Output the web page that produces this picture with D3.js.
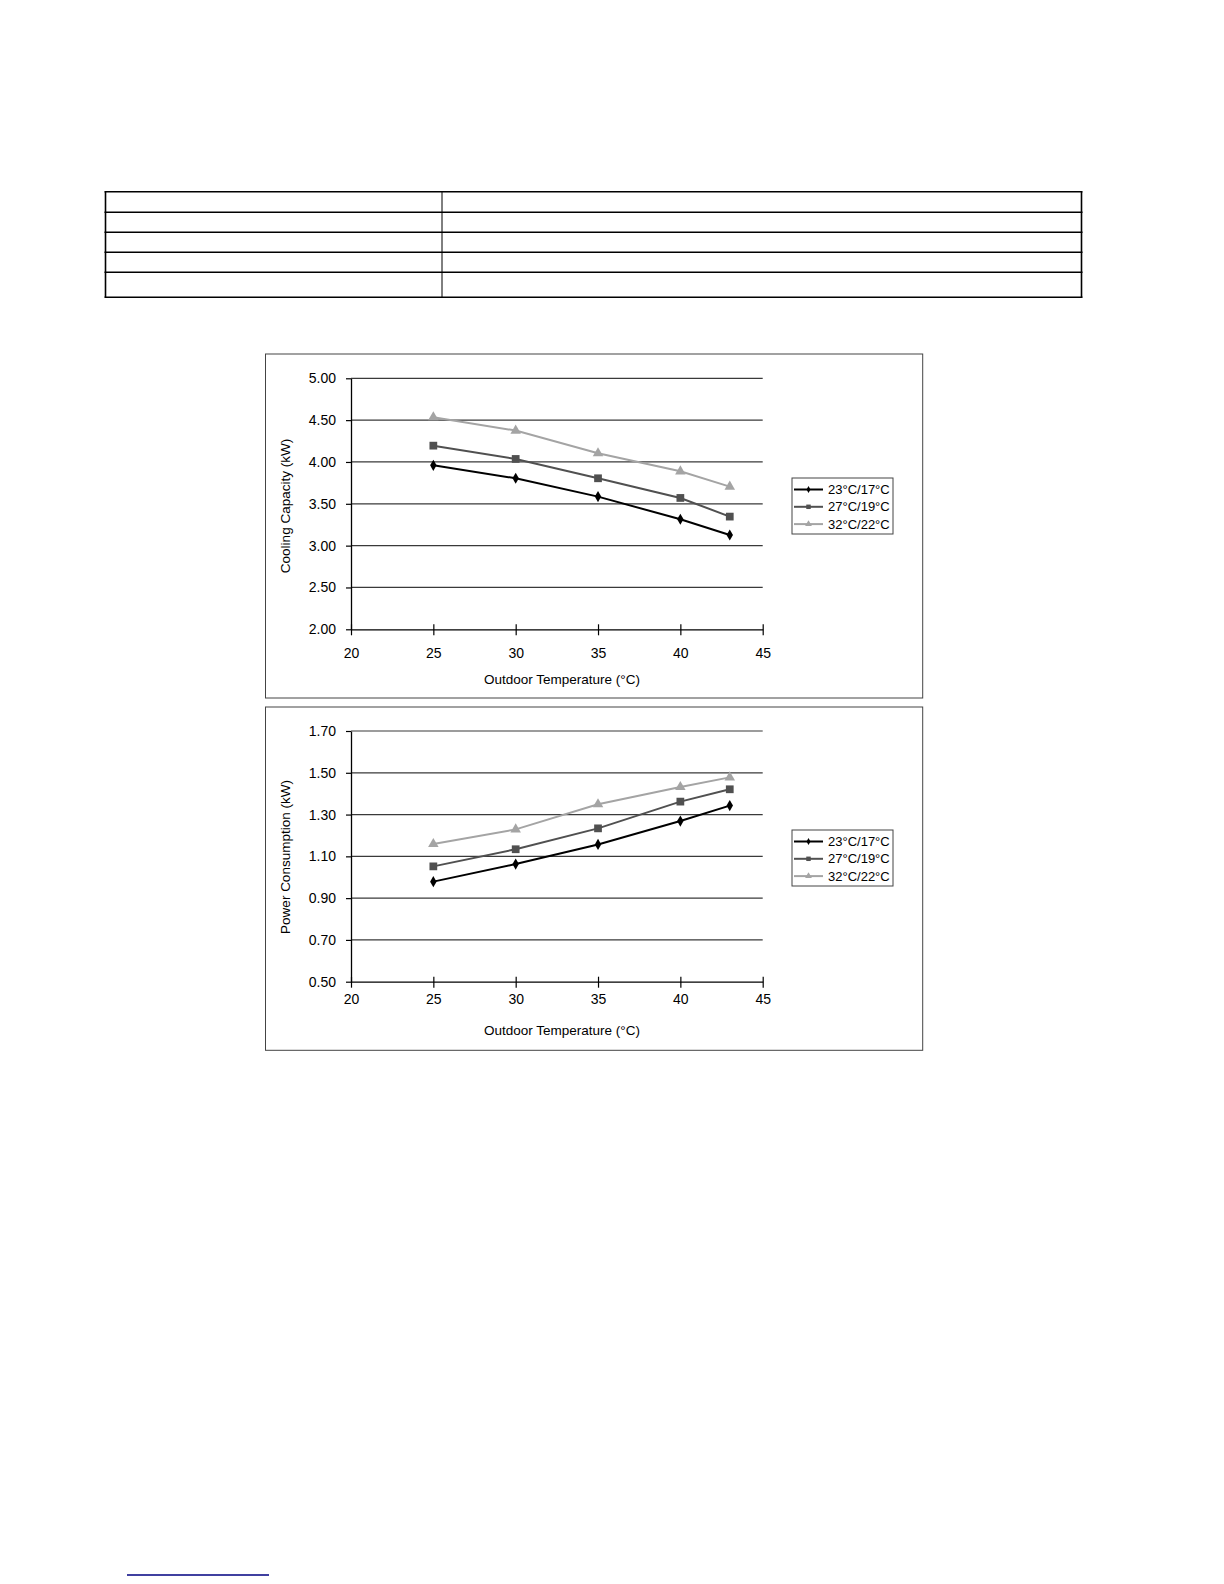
<!DOCTYPE html>
<html>
<head>
<meta charset="utf-8">
<script src="https://cdn.jsdelivr.net/npm/d3@7"></script>
<style>
  body { margin: 0; background: #fff; }
  svg { display: block; }
  text { font-family: "Liberation Sans", Arial, sans-serif; fill: #000; }
</style>
</head>
<body>
<svg id="page" width="1224" height="1584"></svg>
<script>
//Data

//Outdoor temperatures (x values)
var temps = [25, 30, 35, 40, 43];
var xTicks = [20, 25, 30, 35, 40, 45];

//Indoor conditions (series)
var seriesNames = ["23°C/17°C", "27°C/19°C", "32°C/22°C"];

//Cooling capacity (kW)
var capacity23 = [3.96, 3.805, 3.586, 3.315, 3.127];
var capacity27 = [4.195, 4.036, 3.805, 3.57, 3.347];
var capacity32 = [4.534, 4.375, 4.104, 3.888, 3.705];
var capacityTicks = [2.0, 2.5, 3.0, 3.5, 4.0, 4.5, 5.0];

//Power consumption (kW)
var power23 = [0.979, 1.063, 1.157, 1.269, 1.343];
var power27 = [1.052, 1.134, 1.234, 1.362, 1.421];
var power32 = [1.159, 1.229, 1.349, 1.432, 1.478];
var powerTicks = [0.5, 0.7, 0.9, 1.1, 1.3, 1.5, 1.7];

//Styles
var seriesColors = ["#000000", "#505050", "#a4a4a4"];
var seriesSymbols = [d3.symbolDiamond, d3.symbolSquare, d3.symbolTriangle];
var symbolSizes = [36, 60, 48];
var legendSymbolSizes = [14, 20, 20];

var svg = d3.select("#page");

//---empty spec table at the top---
(function drawTable(){
  var left = 105.5, right = 1081.5, split = 442;
  var rowLines = [191.7, 212.3, 232.3, 252.3, 272.3, 297.3];
  var t = svg.append("g");
  t.selectAll("line.row").data(rowLines).enter().append("line")
    .attr("x1", left - 1).attr("x2", right + 1)
    .attr("y1", function(d){return d;}).attr("y2", function(d){return d;})
    .attr("stroke", "#000").attr("stroke-width", 1.6);
  t.append("line").attr("x1", left).attr("x2", left)
    .attr("y1", rowLines[0]).attr("y2", rowLines[5])
    .attr("stroke", "#000").attr("stroke-width", 1.6);
  t.append("line").attr("x1", right).attr("x2", right)
    .attr("y1", rowLines[0]).attr("y2", rowLines[5])
    .attr("stroke", "#000").attr("stroke-width", 1.6);
  t.append("line").attr("x1", split).attr("x2", split)
    .attr("y1", rowLines[0]).attr("y2", rowLines[5])
    .attr("stroke", "#000").attr("stroke-width", 1);
})();

//---chart drawing---
function drawChart(opts){
  var g = svg.append("g");
  var x = d3.scaleLinear().domain([20, 45]).range([351, 762.7]);
  var y = d3.scaleLinear().domain(opts.domain).range([opts.bottom, opts.top]);

  //panel frame
  g.append("rect")
    .attr("x", 265.5).attr("y", opts.panelTop)
    .attr("width", 657.2).attr("height", opts.panelHeight)
    .attr("fill", "#fff").attr("stroke", "#444").attr("stroke-width", 1);

  //gridlines
  g.selectAll("line.grid").data(opts.ticks.slice(1)).enter().append("line")
    .attr("x1", x(20)).attr("x2", x(45))
    .attr("y1", function(d){return y(d);}).attr("y2", function(d){return y(d);})
    .attr("stroke", "#3a3a3a").attr("stroke-width", 1.2);

  //y axis
  var yAxis = d3.axisLeft(y).tickValues(opts.ticks).tickFormat(d3.format(".2f"))
    .tickSizeInner(5).tickSizeOuter(0).tickPadding(10);
  var ya = g.append("g").attr("transform", "translate(" + x(20) + ",0)").call(yAxis);
  ya.select(".domain").attr("stroke", "#000").attr("stroke-width", 1.3);
  ya.selectAll(".tick line").attr("stroke", "#000").attr("stroke-width", 1.2);
  ya.selectAll(".tick text").style("font-size", "14px")
    .style("font-family", "Liberation Sans, Arial, sans-serif");

  //x axis with crossing ticks
  var xAxis = d3.axisBottom(x).tickValues(xTicks).tickSizeInner(5).tickSizeOuter(0);
  var xa = g.append("g").attr("transform", "translate(0," + y(opts.domain[0]) + ")").call(xAxis);
  xa.select(".domain").attr("stroke", "#000").attr("stroke-width", 1.3);
  xa.selectAll(".tick line").attr("y1", -5).attr("y2", 6)
    .attr("stroke", "#000").attr("stroke-width", 1.2);
  xa.selectAll(".tick text").attr("y", opts.xLabelBase).attr("dy", 0)
    .style("font-size", "14px")
    .style("font-family", "Liberation Sans, Arial, sans-serif");

  //axis titles
  g.append("text").attr("x", 562).attr("y", opts.xTitleY)
    .attr("text-anchor", "middle").style("font-size", "13.5px")
    .text("Outdoor Temperature (°C)");
  g.append("text")
    .attr("transform", "translate(290," + opts.yTitleY + ") rotate(-90)")
    .attr("text-anchor", "middle").style("font-size", "13.5px")
    .text(opts.yTitle);

  //series lines and markers
  var line = d3.line().x(function(d){return x(d[0]);}).y(function(d){return y(d[1]);});
  opts.series.forEach(function(vals, i){
    var pts = temps.map(function(t, j){return [t, vals[j]];});
    g.append("path").datum(pts).attr("d", line)
      .attr("fill", "none").attr("stroke", seriesColors[i]).attr("stroke-width", 2);
    g.selectAll("path.m" + i).data(pts).enter().append("path")
      .attr("class", "m" + i)
      .attr("transform", function(d){return "translate(" + x(d[0]) + "," + y(d[1]) + ")";})
      .attr("d", d3.symbol().type(seriesSymbols[i]).size(symbolSizes[i]))
      .attr("fill", seriesColors[i]);
  });

  //legend
  var lg = g.append("g").attr("transform", "translate(792," + opts.legendTop + ")");
  lg.append("rect").attr("width", 101).attr("height", 56)
    .attr("fill", "#fff").attr("stroke", "#444").attr("stroke-width", 1);
  seriesNames.forEach(function(name, i){
    var ry = 11.5 + i * 17.3;
    lg.append("line").attr("x1", 2).attr("x2", 31).attr("y1", ry).attr("y2", ry)
      .attr("stroke", seriesColors[i]).attr("stroke-width", 2);
    lg.append("path").attr("transform", "translate(16.5," + ry + ")")
      .attr("d", d3.symbol().type(seriesSymbols[i]).size(legendSymbolSizes[i]))
      .attr("fill", seriesColors[i]);
    lg.append("text").attr("x", 36).attr("y", ry + 4.6)
      .style("font-size", "13px").text(name);
  });
}

drawChart({
  panelTop: 354, panelHeight: 344,
  top: 378.3, bottom: 629.3,
  domain: [2, 5], ticks: capacityTicks,
  series: [capacity23, capacity27, capacity32],
  yTitle: "Cooling Capacity (kW)", yTitleY: 506,
  xLabelBase: 29, xTitleY: 684,
  legendTop: 478
});

drawChart({
  panelTop: 707, panelHeight: 343.3,
  top: 731, bottom: 981.7,
  domain: [0.5, 1.7], ticks: powerTicks,
  series: [power23, power27, power32],
  yTitle: "Power Consumption (kW)", yTitleY: 857,
  xLabelBase: 22, xTitleY: 1035,
  legendTop: 830
});

//footnote rule at page bottom
svg.append("line").attr("x1", 127).attr("x2", 269).attr("y1", 1575).attr("y2", 1575)
  .attr("stroke", "#000080").attr("stroke-width", 1.5);
</script>
</body>
</html>
